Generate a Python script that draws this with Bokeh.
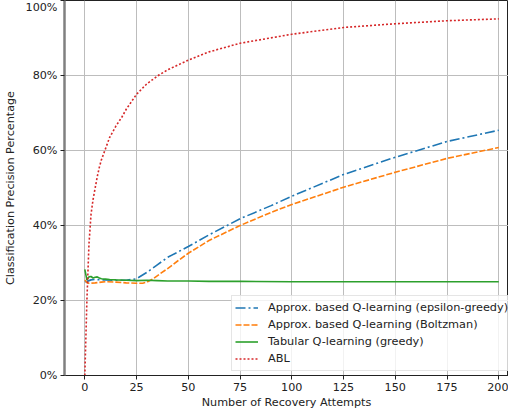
from bokeh.plotting import figure
from bokeh.models import FixedTicker, PrintfTickFormatter, Range1d, Legend, LegendItem
from bokeh.embed import file_html
from bokeh.resources import INLINE

# --- data ---
x_eps = [0, 1, 2, 3, 5, 8, 10, 15, 20, 25, 30, 35, 40, 50, 60, 75, 90, 100, 125, 150, 175, 200]
y_eps = [25.0, 25.1, 25.3, 25.5, 25.6, 25.5, 25.5, 25.4, 25.4, 25.8, 27.5, 29.5, 31.5, 34.4,
         37.5, 41.8, 45.3, 47.8, 53.6, 58.2, 62.4, 65.4]

x_bol = [0, 1, 2, 5, 8, 10, 15, 20, 25, 28, 30, 33, 36, 40, 45, 50, 60, 75, 90, 100, 125, 150, 175, 200]
y_bol = [25.5, 24.8, 24.6, 24.7, 24.9, 25.0, 24.9, 24.7, 24.6, 24.6, 24.9, 25.8, 27.0, 28.5,
         30.6, 32.6, 36.0, 40.0, 43.5, 45.6, 50.2, 54.2, 57.9, 60.8]

x_tab = [0, 1, 2, 3, 4, 5, 6, 7, 8, 10, 12, 15, 20, 25, 30, 35, 40, 50, 60, 75, 100, 125, 150, 175, 200]
y_tab = [28.3, 25.5, 26.3, 26.4, 26.0, 26.2, 26.3, 26.0, 25.8, 25.7, 25.6, 25.5, 25.4, 25.3, 25.4,
         25.3, 25.2, 25.2, 25.1, 25.1, 25.0, 25.0, 25.0, 25.0, 25.0]

x_abl = [0, 1, 2, 3, 4, 5, 6, 7, 8, 10, 12, 15, 18, 20, 25, 30, 36, 40, 50, 60, 75, 100, 125, 150, 175, 200]
y_abl = [0, 20, 35, 43, 47, 50, 53, 55.5, 57.5, 60.5, 63.5, 66.5, 69, 71, 75, 77.8, 80.2, 81.5,
         84.1, 86.3, 88.6, 91.0, 92.8, 93.8, 94.6, 95.1]

labels = ["Approx. based Q-learning (epsilon-greedy)",
          "Approx. based Q-learning (Boltzman)",
          "Tabular Q-learning (greedy)",
          "ABL"]
x_ticks = [0, 25, 50, 75, 100, 125, 150, 175, 200]
y_ticks = [0, 20, 40, 60, 80, 100]
x_title = "Number of Recovery Attempts"
y_title = "Classification Precision Percentage"

FONT = "DejaVu Sans"

p = figure(width=508, height=411, output_backend="svg", toolbar_location=None,
           x_range=Range1d(-9.82, 204.7), y_range=Range1d(0, 100),
           min_border_left=58, min_border_right=0, min_border_top=0, min_border_bottom=35)

p.outline_line_color = "#222222"
p.outline_line_width = 1
p.background_fill_color = "white"
p.border_fill_color = "white"

for ax in (p.xaxis[0], p.yaxis[0]):
    ax.major_label_text_font = FONT
    ax.major_label_text_font_size = "11.2px"
    ax.major_label_text_color = "#222222"
    ax.axis_label_text_font = FONT
    ax.axis_label_text_font_size = "11.2px"
    ax.axis_label_text_font_style = "normal"
    ax.axis_label_text_color = "#222222"
    ax.major_tick_in = 0
    ax.major_tick_out = 4
    ax.major_tick_line_color = "#222222"
    ax.minor_tick_line_color = None

p.xaxis.ticker = FixedTicker(ticks=x_ticks)
p.yaxis.ticker = FixedTicker(ticks=y_ticks)
p.yaxis.formatter = PrintfTickFormatter(format="%d%%")
p.xaxis.axis_label = x_title
p.yaxis.axis_label = y_title
p.xaxis.major_label_standoff = 3
p.xaxis.axis_label_standoff = 2
p.yaxis.major_label_standoff = 3
p.yaxis.axis_label_standoff = 6
p.xaxis.axis_line_color = "#222222"
p.yaxis.axis_line_color = "#808080"
p.yaxis.axis_line_width = 2.5

p.grid.grid_line_color = "#bdbdbd"
p.grid.grid_line_width = 1

r1 = p.line(x_eps, y_eps, line_color="#1f77b4", line_width=1.6, line_dash="10 3 2 3")
r2 = p.line(x_bol, y_bol, line_color="#ff7f0e", line_width=1.6, line_dash="6 2")
r3 = p.line(x_tab, y_tab, line_color="#2ca02c", line_width=1.6)
r4 = p.line(x_abl, y_abl, line_color="#d62728", line_width=1.6, line_dash="2 2")

legend = Legend(items=[LegendItem(label=labels[0], renderers=[r1]),
                       LegendItem(label=labels[1], renderers=[r2]),
                       LegendItem(label=labels[2], renderers=[r3]),
                       LegendItem(label=labels[3], renderers=[r4])],
                location=(167, 4))
legend.label_text_font = FONT
legend.label_text_font_size = "11.3px"
legend.label_text_color = "#222222"
legend.glyph_width = 23
legend.glyph_height = 17
legend.label_height = 17
legend.label_standoff = 10
legend.spacing = 0
legend.padding = 3
legend.margin = 0
legend.border_line_color = "#cccccc"
legend.border_line_width = 1
legend.background_fill_color = "white"
legend.background_fill_alpha = 0.8
p.add_layout(legend, "center")

open("out.html", "w").write(file_html(p, INLINE))
